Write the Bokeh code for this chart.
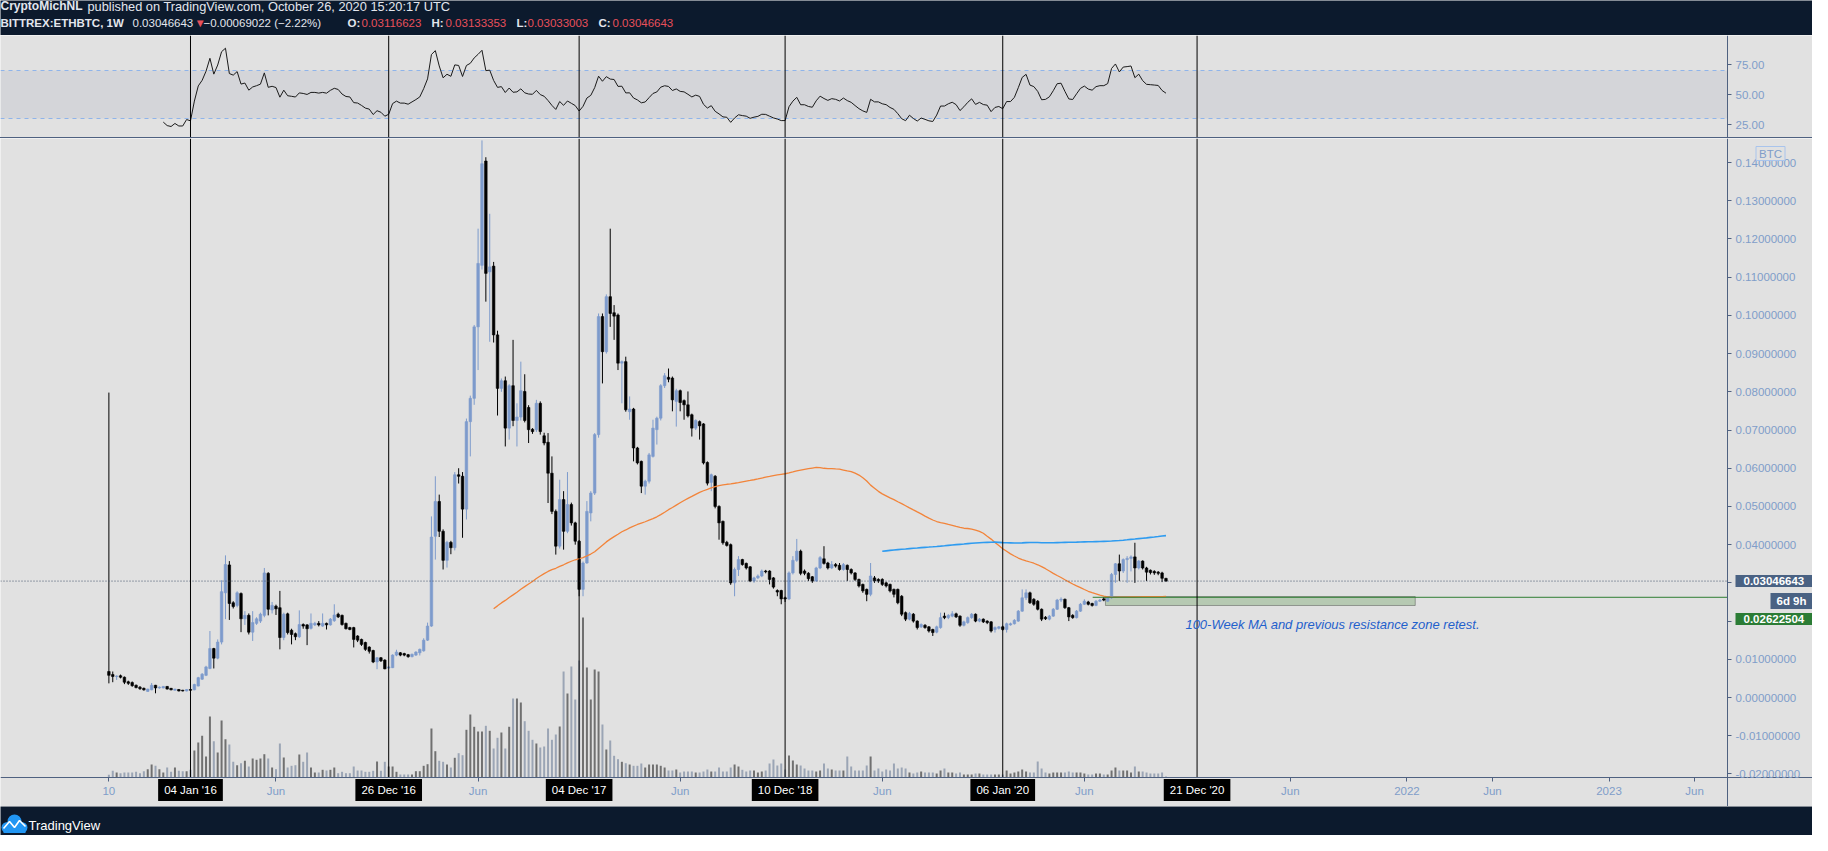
import numpy as np
import pandas as pd
from bokeh.plotting import figure
from bokeh.models import (ColumnDataSource, Range1d, LinearAxis, FixedTicker,
                          NumeralTickFormatter, Span, BoxAnnotation, Label, Spacer)
from bokeh.layouts import column
from bokeh.embed import file_html
from bokeh.resources import INLINE
from bokeh.core.properties import value

# ---------------- data (weekly BITTREX:ETHBTC, first bar week of 2015-08-10) ----------------
first_week = "2015-08-10"

opens = [
    .0068, .0060, .0055, .0057, .0053, .0041, .0039, .0032, .0027, .0024,
    .0016, .0020, .0032, .0025, .0025, .0029, .0024, .0019, .0021, .0019,
    .0017, .0021, .0020, .0030, .0048, .0058, .0076, .0128, .0103, .0145,
    .0274, .0347, .0248, .0241, .0272, .0206, .0215, .0171, .0194, .0200,
    .0215, .0325, .0229, .0239, .0235, .0157, .0219, .0176, .0167, .0159,
    .0191, .0190, .0181, .0190, .0194, .0187, .0194, .0190, .0201, .0218,
    .0215, .0194, .0183, .0183, .0161, .0152, .0144, .0132, .0123, .0093,
    .0104, .0098, .0077, .0078, .0111, .0117, .0115, .0112, .0107, .0111,
    .0117, .0122, .0150, .0187, .0422, .0513, .0435, .0359, .0406, .0392,
    .0583, .0579, .0493, .0722, .0783, .0970, .1131, .1404, .1114, .1129,
    .0949, .0809, .0829, .0705, .0816, .0725, .0734, .0801, .0759, .0702,
    .0701, .0770, .0685, .0668, .0587, .0487, .0396, .0518, .0435, .0505,
    .0457, .0409, .0283, .0352, .0483, .0535, .0688, .0997, .0905, .1049,
    .1007, .1001, .0875, .0879, .0748, .0755, .0653, .0618, .0553, .0566,
    .0631, .0701, .0731, .0816, .0838, .0836, .0775, .0803, .0777, .0766,
    .0740, .0705, .0722, .0716, .0615, .0563, .0579, .0500, .0461, .0406,
    .0400, .0300, .0335, .0361, .0351, .0342, .0305, .0313, .0318, .0331,
    .0331, .0313, .0280, .0280, .0261, .0258, .0326, .0359, .0383, .0331,
    .0325, .0316, .0305, .0339, .0363, .0352, .0339, .0348, .0346, .0335,
    .0346, .0335, .0326, .0309, .0296, .0283, .0270, .0313, .0309, .0309,
    .0300, .0296, .0283, .0283, .0265, .0222, .0205, .0218, .0200, .0185,
    .0189, .0185, .0178, .0171, .0183, .0213, .0209, .0213, .0219, .0213,
    .0189, .0196, .0209, .0218, .0200, .0205, .0200, .0198, .0178, .0181,
    .0185, .0178, .0190, .0193, .0200, .0226, .0261, .0274, .0257, .0252,
    .0231, .0210, .0205, .0213, .0231, .0255, .0257, .0235, .0215, .0209,
    .0226, .0244, .0250, .0246, .0241, .0252, .0258, .0252,
    .0261, .0322, .0350, .0331, .0361, .0364, .0368, .0339, .0357, .0339,
    .0333, .0330, .0328, .0326, .03116623,
]
highs = [
    .0798, .0068, .0058, .0060, .0055, .0044, .0042, .0034, .0030, .0026,
    .0023, .0038, .0033, .0029, .0030, .0030, .0025, .0023, .0022, .0020,
    .0022, .0022, .0036, .0054, .0064, .0083, .0174, .0130, .0152, .0307,
    .0372, .0357, .0252, .0278, .0275, .0226, .0220, .0226, .0210, .0222,
    .0339, .0328, .0250, .0243, .0279, .0222, .0222, .0180, .0170, .0228,
    .0194, .0192, .0220, .0198, .0200, .0220, .0196, .0208, .0244, .0222,
    .0217, .0196, .0185, .0185, .0163, .0154, .0146, .0134, .0125, .0106,
    .0106, .0100, .0081, .0113, .0125, .0119, .0117, .0114, .0115, .0121,
    .0128, .0155, .0196, .0474, .0579, .0531, .0440, .0410, .0410, .0590,
    .0600, .0590, .0730, .0790, .0975, .1227, .1458, .1414, .1266, .1140,
    .0960, .0835, .0840, .0820, .0936, .0770, .0879, .0846, .0765, .0705,
    .0779, .0775, .0693, .0692, .0631, .0492, .0570, .0540, .0590, .0510,
    .0460, .0412, .0356, .0514, .0540, .0692, .1005, .1005, .1055, .1227,
    .1027, .1005, .0882, .0892, .0788, .0758, .0656, .0620, .0570, .0640,
    .0727, .0735, .0820, .0849, .0861, .0840, .0808, .0806, .0780, .0801,
    .0743, .0728, .0725, .0718, .0618, .0586, .0582, .0503, .0463, .0410,
    .0403, .0340, .0370, .0363, .0353, .0344, .0316, .0322, .0335, .0334,
    .0333, .0315, .0283, .0282, .0264, .0330, .0370, .0415, .0387, .0335,
    .0328, .0318, .0342, .0370, .0396, .0355, .0357, .0352, .0352, .0352,
    .0348, .0338, .0328, .0311, .0298, .0285, .0352, .0318, .0312, .0312,
    .0303, .0298, .0285, .0285, .0268, .0225, .0224, .0221, .0202, .0194,
    .0192, .0187, .0180, .0188, .0222, .0222, .0218, .0226, .0222, .0215,
    .0201, .0212, .0221, .0220, .0208, .0207, .0202, .0200, .0186, .0187,
    .0188, .0196, .0196, .0205, .0229, .0283, .0283, .0277, .0260, .0255,
    .0233, .0213, .0216, .0234, .0258, .0262, .0259, .0237, .0218, .0229,
    .0247, .0257, .0253, .0248, .0255, .0258, .0263, .0264,
    .0326, .0352, .0374, .0364, .0370, .0372, .0405, .0360, .0359, .0342,
    .0335, .0333, .0331, .0329, .03133353,
]
lows = [
    .0037, .0040, .0046, .0050, .0035, .0033, .0028, .0024, .0020, .0018,
    .0015, .0019, .0011, .0023, .0024, .0021, .0019, .0018, .0016, .0016,
    .0016, .0018, .0019, .0029, .0046, .0056, .0074, .0076, .0100, .0139,
    .0205, .0203, .0233, .0236, .0171, .0190, .0165, .0148, .0190, .0195,
    .0210, .0215, .0220, .0216, .0126, .0150, .0165, .0139, .0150, .0156,
    .0180, .0137, .0178, .0187, .0186, .0185, .0178, .0188, .0198, .0208,
    .0188, .0178, .0176, .0131, .0145, .0135, .0122, .0115, .0090, .0074,
    .0093, .0074, .0076, .0077, .0108, .0108, .0108, .0104, .0105, .0109,
    .0110, .0120, .0148, .0185, .0361, .0420, .0335, .0340, .0375, .0385,
    .0560, .0418, .0466, .0631, .0766, .0857, .1120, .1036, .0931, .0929,
    .0738, .0800, .0657, .0675, .0710, .0657, .0725, .0720, .0666, .0690,
    .0695, .0688, .0660, .0509, .0480, .0374, .0390, .0387, .0430, .0450,
    .0400, .0265, .0265, .0350, .0461, .0530, .0680, .0822, .0900, .0970,
    .0936, .0857, .0770, .0748, .0727, .0618, .0610, .0535, .0531, .0560,
    .0628, .0662, .0725, .0810, .0825, .0749, .0709, .0749, .0727, .0733,
    .0683, .0700, .0675, .0610, .0555, .0540, .0495, .0413, .0400, .0395,
    .0295, .0265, .0318, .0345, .0335, .0302, .0300, .0310, .0315, .0325,
    .0296, .0285, .0265, .0244, .0250, .0255, .0322, .0355, .0320, .0320,
    .0305, .0300, .0303, .0336, .0348, .0335, .0336, .0340, .0332, .0332,
    .0305, .0322, .0305, .0288, .0274, .0252, .0265, .0300, .0300, .0292,
    .0288, .0275, .0262, .0244, .0213, .0200, .0202, .0196, .0178, .0182,
    .0180, .0170, .0161, .0168, .0180, .0205, .0205, .0210, .0208, .0185,
    .0186, .0193, .0206, .0197, .0197, .0195, .0192, .0170, .0170, .0178,
    .0175, .0170, .0188, .0191, .0198, .0224, .0255, .0245, .0240, .0228,
    .0200, .0203, .0202, .0211, .0229, .0250, .0232, .0200, .0206, .0207,
    .0224, .0242, .0241, .0238, .0239, .0250, .0252, .0250,
    .0258, .0300, .0305, .0326, .0300, .0330, .0300, .0335, .0335, .0305,
    .0322, .0321, .0320, .0302, .03033003,
]
closes = [
    .0058, .0055, .0056, .0053, .0040, .0037, .0031, .0026, .0023, .0020,
    .0022, .0032, .0025, .0027, .0029, .0022, .0020, .0022, .0017, .0017,
    .0021, .0019, .0034, .0052, .0061, .0080, .0128, .0103, .0145, .0277,
    .0348, .0246, .0238, .0274, .0206, .0215, .0171, .0196, .0206, .0218,
    .0326, .0231, .0241, .0232, .0157, .0218, .0170, .0165, .0159, .0191,
    .0187, .0180, .0194, .0194, .0190, .0194, .0190, .0205, .0216, .0211,
    .0191, .0180, .0178, .0152, .0150, .0139, .0126, .0121, .0093, .0104,
    .0096, .0075, .0080, .0111, .0119, .0111, .0111, .0107, .0113, .0119,
    .0126, .0150, .0187, .0420, .0513, .0435, .0359, .0406, .0392, .0583,
    .0579, .0493, .0722, .0783, .0970, .1136, .1397, .1110, .1127, .0949,
    .0809, .0829, .0705, .0816, .0725, .0734, .0803, .0725, .0701, .0696,
    .0770, .0696, .0666, .0587, .0487, .0396, .0518, .0435, .0505, .0457,
    .0409, .0283, .0352, .0487, .0535, .0688, .0997, .0905, .1049, .1005,
    .0998, .0875, .0879, .0753, .0755, .0653, .0614, .0553, .0566, .0635,
    .0705, .0731, .0816, .0842, .0833, .0779, .0803, .0772, .0766, .0737,
    .0705, .0725, .0711, .0614, .0561, .0583, .0500, .0457, .0405, .0398,
    .0300, .0335, .0361, .0348, .0339, .0305, .0313, .0318, .0331, .0329,
    .0309, .0289, .0276, .0258, .0258, .0326, .0359, .0383, .0325, .0325,
    .0311, .0305, .0339, .0366, .0351, .0339, .0348, .0344, .0335, .0348,
    .0335, .0326, .0309, .0292, .0279, .0270, .0318, .0305, .0305, .0296,
    .0292, .0279, .0270, .0248, .0218, .0205, .0220, .0200, .0183, .0191,
    .0183, .0174, .0170, .0185, .0209, .0209, .0215, .0219, .0211, .0189,
    .0198, .0209, .0218, .0200, .0205, .0198, .0196, .0174, .0183, .0185,
    .0178, .0193, .0193, .0202, .0226, .0261, .0274, .0248, .0244, .0231,
    .0205, .0206, .0213, .0231, .0255, .0257, .0235, .0211, .0209, .0226,
    .0244, .0252, .0244, .0241, .0252, .0255, .0255, .0261,
    .0322, .0350, .0331, .0361, .0364, .0368, .0339, .0357, .0339, .0328,
    .0327, .0326, .0325, .0312, .03046643,
]
# relative weekly volume (arbitrary units)
volumes = [
    2.7, 6.7, 5, 4.3, 5, 5, 5, 5.7, 4.3, 6.3,
    8.3, 13, 11.7, 8.3, 5, 10, 5.7, 10, 6.7, 6.3,
    6.3, 7.7, 27, 35, 41.7, 21, 61, 36.3, 25, 57,
    38.3, 33, 15.7, 12.3, 14.3, 16.7, 11, 19, 17.7, 19,
    23.3, 19, 10, 8.3, 34, 20, 10, 11.7, 12.3, 23,
    15.7, 25, 10, 5, 5, 7.7, 7, 7.7, 10, 4.3,
    5.7, 4.3, 4.3, 11, 7, 7, 5.7, 5.7, 6.7, 16,
    6.7, 15.7, 11, 11, 5.7, 3, 3, 3, 3, 6.3,
    6.3, 11.7, 13.3, 49, 26.3, 16.7, 15.7, 13, 10, 19.7,
    24.3, 22.3, 47.7, 63, 50.7, 46, 46, 51.7, 46.7, 29,
    39.7, 45, 29, 50.7, 79, 79, 75, 56.3, 46.7, 37.7,
    34, 30, 31, 49, 37.7, 43, 51, 106, 84, 111,
    78, 117, 160, 110, 78, 108, 106, 53, 28, 37,
    21.7, 18.3, 15.7, 14.3, 13, 11.7, 11.7, 14, 10, 13,
    13, 13, 11.7, 10, 7, 7, 8, 5, 6, 6,
    6, 5, 5, 6, 8, 6, 6, 10, 6, 6,
    10, 13, 11, 7.7, 6, 7, 7, 5, 6, 7,
    14, 18, 12, 14, 8, 22, 17, 13, 12, 9,
    7, 7, 6, 7, 14, 9, 8, 7, 7, 7,
    21, 11, 7, 7, 7, 12, 21, 7, 9, 6,
    8, 7, 14, 9, 10, 9, 5, 4, 5, 6,
    5, 5, 5, 4, 7, 9, 5, 5, 4, 5,
    3, 3, 3, 4, 4, 3, 3, 3, 3, 3,
    3, 7, 4, 5, 6, 8, 6, 5, 5, 16,
    9, 5, 4, 5, 5, 5, 5, 6, 5, 5,
    5, 4, 3, 3, 4, 4, 3, 3,
    7, 10, 7, 7, 7, 5, 11, 6, 6, 5,
    4, 4, 4, 5, 1,
]

# vertical drawing lines and their date labels
vline_dates = ["2016-01-04", "2016-12-26", "2017-12-04", "2018-12-10", "2020-01-06", "2020-12-21"]
vline_labels = ["04 Jan '16", "26 Dec '16", "04 Dec '17", "10 Dec '18", "06 Jan '20", "21 Dec '20"]

# time-axis ticks
tick_dates = ["2015-08-10", "2016-06-06", "2017-06-05", "2018-06-04", "2019-06-03", "2020-06-01",
              "2021-06-07", "2022-01-03", "2022-06-06", "2023-01-02", "2023-06-05"]
tick_labels = ["10", "Jun", "Jun", "Jun", "Jun", "Jun", "Jun", "2022", "Jun", "2023", "Jun"]
price_ticks = [-0.02, -0.01, 0.0, 0.01, 0.02, 0.03, 0.04, 0.05, 0.06, 0.07, 0.08, 0.09,
               0.10, 0.11, 0.12, 0.13, 0.14]
rsi_ticks = [25, 50, 75]

# user drawings
zone_left, zone_right = "2020-07-09", "2022-01-18"
zone_bottom, zone_top = 0.02408, 0.02643
zone_line_start, zone_line_price = "2020-06-16", 0.02622504
note_date, note_price = "2020-11-30", 0.01918
note_text = "100-Week MA and previous resistance zone retest."

# ---------------- view / styling ----------------
VIEW_START, VIEW_END = "2015-01-26 19:00", "2024-01-03 12:00"
PRICE_SCALE_AT = "2023-08-03 10:00"          # where the price scale sits
PRICE_VIEW = (-0.028527, 0.14630)
TIME_AXIS_AT = -0.02094                      # price level of the time axis line
RSI_VIEW = (14.17, 99.17)

FONT = "Liberation Sans"
DARK = "#0c1a2d"
PANEL = "#e1e1e1"
AXIS = "#4f6180"
TICKTXT = "#7f9dc9"
UP = "#7d9bcc"
DOWN = "#000000"
VOL_UP = "#707070"
VOL_DOWN = "#9ba5b5"
RED = "#e8505b"
HEAD = "#e3e6ee"
W = 1812
DAY = 86400000.0


def ms(d):
    return pd.Timestamp(d).value / 1e6


o = np.array(opens)
h = np.array(highs)
l = np.array(lows)
c = np.array(closes)
n = len(c)
weeks = pd.date_range(first_week, periods=n, freq="7D")
t = np.array([ms(w) for w in weeks])
is_up = c >= o

# indicators built from the closes
sma100 = pd.Series(c).rolling(100).mean().to_numpy()
sma200 = pd.Series(c).rolling(200).mean().to_numpy()
d = np.diff(c)
gain = np.where(d > 0, d, 0.0)
loss = np.where(d < 0, -d, 0.0)
rsi = np.full(n, np.nan)
ag, al = gain[:14].mean(), loss[:14].mean()
rsi[14] = 100 - 100 / (1 + ag / al) if al > 0 else 100.0
for k in range(14, len(d)):
    ag = (ag * 13 + gain[k]) / 14
    al = (al * 13 + loss[k]) / 14
    rsi[k + 1] = 100 - 100 / (1 + ag / al) if al > 0 else 100.0

src = ColumnDataSource(dict(
    t=t, o=o, h=h, l=l, c=c,
    top=np.maximum(o, c), bottom=np.minimum(o, c),
    color=[UP if u else DOWN for u in is_up],
    vol=np.array(volumes, dtype=float),
    vcolor=[VOL_UP if u else VOL_DOWN for u in is_up],
    sma100=sma100, sma200=sma200, rsi=rsi,
))

x_range = Range1d(ms(VIEW_START), ms(VIEW_END))
xs0, xax_at = ms(VIEW_START), ms(PRICE_SCALE_AT)


def style_axis(ax):
    ax.axis_line_color = AXIS
    ax.major_tick_line_color = AXIS
    ax.major_tick_out = 4
    ax.major_tick_in = 0
    ax.minor_tick_line_color = None
    ax.major_label_text_color = TICKTXT
    ax.major_label_text_font = FONT
    ax.major_label_text_font_size = "11.5px"
    ax.major_label_standoff = 4


def set_pad(lbl, left, right, top, bottom):
    try:
        lbl.padding = dict(left=left, right=right, top=top, bottom=bottom)
    except Exception:
        try:
            lbl.padding = top
        except Exception:
            pass


def pane(height, yr):
    p = figure(width=W, height=height, x_range=x_range, y_range=Range1d(*yr),
               x_axis_type=None, y_axis_type=None, toolbar_location=None, output_backend="svg",
               min_border=0, background_fill_color=PANEL, border_fill_color=PANEL,
               outline_line_color=None)
    return p


# ---------------- header ----------------
head = figure(width=W, height=35, x_range=Range1d(0, W), y_range=Range1d(35, 0),
              x_axis_type=None, y_axis_type=None, toolbar_location=None, output_backend="svg",
              min_border=0, outline_line_color=None, background_fill_color=DARK, border_fill_color=DARK)
head.text(x=[0], y=[5.5], text=["CryptoMichNL"], text_color=HEAD, text_font=value(FONT),
          text_font_size="12px", text_font_style="bold", text_baseline="middle")
head.text(x=[87], y=[5.5], text=["published on TradingView.com, October 26, 2020 15:20:17 UTC"],
          text_color=HEAD, text_font=value(FONT), text_font_size="12.8px", text_baseline="middle")
head.text(x=[0, 347, 431, 516, 598], y=[22] * 5,
          text=["BITTREX:ETHBTC, 1W", "O:", "H:", "L:", "C:"], text_color=HEAD,
          text_font=value(FONT), text_font_size="11.5px", text_font_style="bold",
          text_baseline="middle")
head.text(x=[132, 203], y=[22, 22],
          text=[f"{c[-1]:.8f}", "\u22120.00069022 (\u22122.22%)"], text_color=HEAD,
          text_font=value(FONT), text_font_size="11.5px", text_baseline="middle")
head.text(x=[194, 361, 445, 527, 612], y=[22] * 5,
          text=["\u25bc", f"{o[-1]:.8f}", f"{h[-1]:.8f}", f"{l[-1]:.8f}", f"{c[-1]:.8f}"],
          text_color=RED, text_font=value(FONT), text_font_size="11.5px", text_baseline="middle")

# ---------------- RSI pane ----------------
rp = pane(102, RSI_VIEW)
ry = LinearAxis(ticker=FixedTicker(ticks=rsi_ticks), formatter=NumeralTickFormatter(format="0.00"),
                fixed_location=xax_at)
style_axis(ry)
rp.add_layout(ry, "right")
rp.add_layout(BoxAnnotation(bottom=30, top=70, right=xax_at, fill_color="#d4d5d9", fill_alpha=1.0,
                            line_color=None, level="underlay"))
rp.segment(x0=[xs0, xs0], x1=[xax_at, xax_at], y0=[30, 70], y1=[30, 70],
           line_color="#8fb4ea", line_dash="4 4", line_width=1)
rp.line("t", "rsi", source=src, line_color="#1a1a1a", line_width=1)
for vd in vline_dates:
    rp.add_layout(Span(location=ms(vd), dimension="height", line_color="black", line_width=1))

sep = Spacer(width=W, height=1, styles={"background-color": AXIS})

# ---------------- price pane ----------------
mp = pane(668, PRICE_VIEW)
mp.extra_y_ranges = {"vol": Range1d(-29, 639)}
py = LinearAxis(ticker=FixedTicker(ticks=price_ticks),
                formatter=NumeralTickFormatter(format="0.00000000"), fixed_location=xax_at)
style_axis(py)
mp.add_layout(py, "right")

xticks = [ms(x) for x in tick_dates]
xax = LinearAxis(ticker=FixedTicker(ticks=xticks),
                 major_label_overrides={k: lab for k, lab in zip(xticks, tick_labels)},
                 fixed_location=TIME_AXIS_AT)
style_axis(xax)
xax.major_label_standoff = 3
mp.add_layout(xax, "below")

mp.add_layout(BoxAnnotation(left=ms(zone_left), right=ms(zone_right), bottom=zone_bottom,
                            top=zone_top, fill_color="#abc3a6", fill_alpha=0.8,
                            line_color="black", line_width=1, level="underlay"))

mp.vbar(x="t", top="vol", bottom=0, width=3.6 * DAY, fill_color="vcolor", line_color=None,
        y_range_name="vol", source=src)
mp.segment(x0="t", y0="l", x1="t", y1="h", line_color="color", line_width=1, source=src)
mp.vbar(x="t", top="top", bottom="bottom", width=4.6 * DAY, fill_color="color",
        line_color="color", line_width=0.6, source=src)
mp.line("t", "sma100", source=src, line_color="#f2843a", line_width=1.3)
mp.line("t", "sma200", source=src, line_color="#2e9bf0", line_width=1.6)
mp.segment(x0=[ms(zone_line_start)], x1=[xax_at], y0=[zone_line_price], y1=[zone_line_price],
           line_color="#2e7d32", line_width=1)
mp.segment(x0=[xs0], x1=[xax_at], y0=[float(c[-1])], y1=[float(c[-1])],
           line_color="#44536b", line_dash="1 2", line_width=1)
vx = [ms(vd) for vd in vline_dates]
mp.segment(x0=vx, x1=vx, y0=[TIME_AXIS_AT] * len(vx), y1=[PRICE_VIEW[1]] * len(vx),
           line_color="black", line_width=1)

mp.add_layout(Label(x=ms(note_date), y=note_price, text=note_text, text_color="#1f60cc",
                    text_font=FONT, text_font_size="13px", text_font_style="italic",
                    text_baseline="middle", text_align="left"))

for vd, vl in zip(vline_dates, vline_labels):
    lab = Label(x=ms(vd), y=16.5, y_units="screen", text=vl, text_color="white",
                text_font=FONT, text_font_size="11.5px", text_align="center",
                text_baseline="middle", background_fill_color="black", background_fill_alpha=1.0)
    set_pad(lab, 6, 6, 5, 5)
    mp.add_layout(lab)

price_lbl = Label(x=xax_at, x_offset=8, y=float(c[-1]), text=f"{c[-1]:.8f}",
                  text_color="white", text_font=FONT, text_font_size="11.5px",
                  text_font_style="bold", text_baseline="middle", text_align="left",
                  background_fill_color="#4a6283", background_fill_alpha=1.0)
set_pad(price_lbl, 8, 8, 2, 2)
mp.add_layout(price_lbl)
cd_lbl = Label(x=xax_at, x_offset=43, y=205.5, y_units="screen", text="6d 9h",
               text_color="white", text_font=FONT, text_font_size="11.5px",
               text_font_style="bold", text_baseline="middle", text_align="left",
               background_fill_color="#4a6283", background_fill_alpha=1.0)
set_pad(cd_lbl, 6, 6, 2, 2)
mp.add_layout(cd_lbl)
zone_lbl = Label(x=xax_at, x_offset=8, y=187.5, y_units="screen",
                 text=f"{zone_line_price:.8f}", text_color="white", text_font=FONT,
                 text_font_size="11.5px", text_font_style="bold", text_baseline="middle",
                 text_align="left", background_fill_color="#2b7c35", background_fill_alpha=1.0)
set_pad(zone_lbl, 8, 8, 2, 2)
mp.add_layout(zone_lbl)
btc_lbl = Label(x=xax_at, x_offset=43, y=653, y_units="screen", text="BTC",
                text_color=TICKTXT, text_font=FONT, text_font_size="11.5px",
                text_baseline="middle", text_align="center",
                background_fill_color=PANEL, background_fill_alpha=1.0,
                border_line_color="#a9c4ec", border_line_width=1)
set_pad(btc_lbl, 3, 3, 1, 1)
mp.add_layout(btc_lbl)

# ---------------- footer ----------------
foot = figure(width=W, height=29, x_range=Range1d(0, W), y_range=Range1d(29, 0),
              x_axis_type=None, y_axis_type=None, toolbar_location=None, output_backend="svg",
              min_border=0, outline_line_color=None, background_fill_color=DARK, border_fill_color=DARK)
foot.ellipse(x=[7, 14, 21], y=[21, 15, 21], width=[12, 14, 12], height=[11, 14, 11],
             fill_color="#2196f3", line_color=None)
foot.rect(x=[14], y=[23], width=[22], height=[7], fill_color="#2196f3", line_color=None)
foot.line(x=[3, 9, 14, 19, 25], y=[22, 15, 21, 14, 20], line_color="white", line_width=1.6)
foot.text(x=[28], y=[19], text=["TradingView"], text_color="white", text_font=value(FONT),
          text_font_size="13px", text_baseline="middle")

page = column(head, rp, sep, mp, foot, spacing=0)
open("out.html", "w").write(file_html(page, INLINE))
